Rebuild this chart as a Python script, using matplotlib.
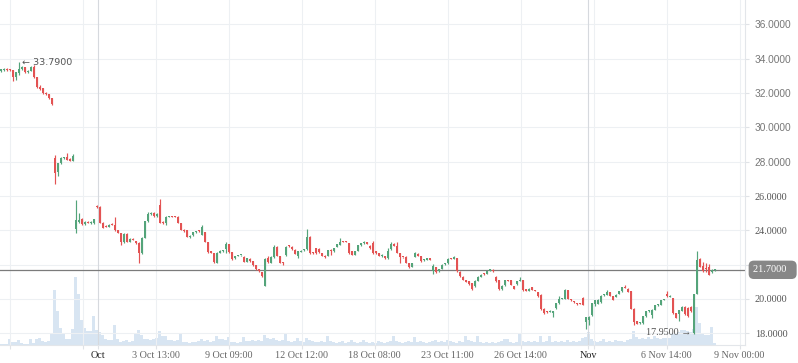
import numpy as np
import matplotlib
matplotlib.use("Agg")
import matplotlib.pyplot as plt

# candle data (one candle per bar, left to right)
opens = [
    33.30, 33.36, 33.40, 33.34, 33.32, 32.92, 33.15, 33.42, 33.50, 33.24,
    33.28, 33.52, 32.92, 32.36, 32.28, 32.00, 31.92, 31.70, 28.22, 27.40,
    27.90, 28.20, 28.30, 28.18, 28.06, 24.05, 24.50, 24.65, 24.38, 24.50,
    24.45, 24.42, 25.38, 25.35, 24.45, 24.25, 24.22, 24.36, 24.30, 24.00,
    23.82, 23.32, 23.78, 23.34, 23.50, 23.38, 23.28, 22.66, 23.58, 24.52,
    24.96, 25.00, 24.82, 25.45, 24.45, 24.42, 24.80, 24.82, 24.80, 24.80,
    24.40, 24.00, 24.00, 23.62, 23.70, 23.90, 23.96, 23.72, 23.88, 23.32,
    22.80, 22.66, 22.12, 22.70, 22.80, 22.90, 23.18, 22.72, 22.38, 22.50,
    22.54, 22.46, 22.16, 22.34, 22.22, 21.96, 21.72, 21.58, 20.78, 22.36,
    22.12, 22.44, 23.05, 22.50, 22.14, 22.55, 23.12, 23.05, 22.88, 22.52,
    22.76, 22.84, 22.92, 23.64, 22.72, 22.96, 22.90, 22.66, 22.52, 22.50,
    22.80, 22.80, 23.05, 23.16, 23.35, 23.36, 23.25, 22.80, 22.58, 22.80,
    23.14, 23.24, 23.30, 23.10, 23.25, 22.80, 22.66, 22.50, 22.50, 22.36,
    22.90, 23.20, 23.10, 22.66, 22.44, 22.46, 22.10, 21.88, 22.45, 22.64,
    22.50, 22.28, 22.28, 22.32, 21.62, 21.86, 21.64, 21.76, 22.04, 22.10,
    22.36, 22.34, 22.36, 21.60, 21.30, 21.10, 21.02, 20.92, 20.75, 21.05,
    21.28, 21.48, 21.48, 21.64, 21.70, 21.30, 21.10, 20.58, 20.80, 21.10,
    21.08, 20.74, 20.86, 21.04, 21.10, 20.56, 20.48, 20.70, 20.52, 20.40,
    20.26, 19.44, 19.28, 19.26, 19.16, 19.45, 19.74, 20.00, 20.00, 20.50,
    20.00, 19.82, 19.74, 19.74, 20.05, 18.66, 18.80, 19.05, 19.72, 19.72,
    19.80, 20.22, 20.26, 20.38, 20.18, 20.12, 20.30, 20.45, 20.70, 20.60,
    20.44, 19.44, 18.70, 18.58, 18.60, 19.00, 19.28, 19.08, 19.38, 19.64,
    19.66, 19.94, 20.28, 20.12, 20.04, 19.16, 19.10, 19.32, 19.54, 19.50,
    19.54, 18.00, 20.30, 22.35, 21.90, 21.78, 21.86, 21.56, 21.70,
]
highs = [
    33.42, 33.45, 33.44, 33.40, 33.36, 33.25, 33.79, 33.58, 33.52, 33.32,
    33.56, 33.62, 32.95, 32.44, 32.32, 32.04, 31.96, 31.72, 28.40, 27.95,
    28.25, 28.30, 28.50, 28.22, 28.45, 25.75, 25.00, 24.70, 24.55, 24.55,
    24.55, 24.68, 25.45, 25.40, 24.50, 24.30, 24.36, 24.40, 24.75, 24.02,
    23.85, 23.82, 23.82, 23.55, 23.55, 23.40, 23.30, 23.62, 24.55, 25.05,
    25.05, 25.05, 25.02, 25.85, 24.55, 24.85, 24.86, 24.84, 24.82, 24.82,
    24.42, 24.05, 24.02, 23.72, 23.92, 23.98, 24.00, 24.30, 23.92, 23.35,
    22.82, 22.68, 22.75, 22.85, 22.84, 23.30, 23.22, 22.74, 22.52, 22.56,
    22.58, 22.50, 22.40, 22.36, 22.24, 21.98, 21.74, 21.60, 22.38, 22.50,
    22.48, 23.17, 23.08, 22.52, 22.16, 23.08, 23.16, 23.06, 22.90, 22.82,
    22.84, 22.92, 24.10, 23.66, 22.74, 23.00, 22.96, 22.68, 22.54, 22.88,
    22.90, 22.98, 23.22, 23.55, 23.38, 23.38, 23.28, 22.82, 22.82, 23.16,
    23.28, 23.36, 23.32, 23.12, 23.40, 22.82, 22.68, 22.60, 22.52, 22.95,
    23.32, 23.24, 23.32, 22.68, 22.46, 22.48, 22.12, 22.12, 22.72, 22.66,
    22.52, 22.32, 22.40, 22.34, 22.05, 21.88, 21.76, 22.02, 22.12, 22.36,
    22.38, 22.50, 22.38, 21.62, 21.32, 21.12, 21.04, 20.94, 21.10, 21.32,
    21.44, 21.52, 21.66, 21.76, 21.72, 21.32, 21.12, 20.82, 21.12, 21.12,
    21.10, 20.76, 21.06, 21.30, 21.12, 20.58, 20.62, 20.72, 20.54, 20.42,
    20.28, 19.46, 19.30, 19.36, 19.32, 19.76, 20.18, 20.08, 20.60, 20.52,
    20.02, 19.86, 19.76, 19.78, 20.10, 18.98, 19.00, 19.78, 19.96, 19.98,
    20.22, 20.32, 20.50, 20.40, 20.20, 20.30, 20.46, 20.70, 20.80, 20.62,
    20.46, 19.46, 18.72, 18.66, 19.02, 19.32, 19.38, 19.42, 19.66, 19.72,
    19.96, 20.02, 20.44, 20.22, 20.06, 19.18, 19.38, 19.58, 19.58, 19.52,
    19.58, 20.32, 22.80, 22.40, 22.14, 22.08, 22.06, 21.74, 21.74,
]
lows = [
    33.22, 33.28, 33.30, 33.28, 32.72, 32.75, 33.05, 33.36, 33.18, 33.16,
    33.26, 32.86, 32.30, 32.16, 31.95, 31.86, 31.68, 31.30, 26.70, 27.18,
    27.85, 28.15, 28.08, 28.02, 28.02, 23.85, 24.45, 24.30, 24.32, 24.40,
    24.38, 24.38, 25.30, 24.42, 24.12, 24.18, 24.20, 24.30, 23.98, 23.82,
    23.12, 23.28, 23.30, 23.30, 23.42, 23.20, 22.10, 22.62, 23.55, 24.50,
    24.92, 24.78, 24.78, 24.40, 24.38, 24.30, 24.76, 24.76, 24.75, 24.40,
    24.00, 23.90, 23.60, 23.58, 23.65, 23.86, 23.92, 23.70, 23.30, 22.70,
    22.66, 22.10, 22.08, 22.66, 22.76, 22.70, 22.70, 22.30, 22.34, 22.48,
    22.50, 22.14, 22.14, 22.18, 21.94, 21.68, 21.58, 21.28, 20.74, 22.10,
    22.08, 22.40, 22.48, 22.10, 21.96, 22.50, 23.02, 22.86, 22.60, 22.40,
    22.72, 22.82, 22.88, 22.64, 22.62, 22.64, 22.70, 22.50, 22.40, 22.48,
    22.56, 22.76, 23.02, 23.12, 23.30, 23.30, 22.64, 22.54, 22.54, 22.78,
    23.10, 23.20, 23.20, 22.94, 22.64, 22.64, 22.48, 22.46, 22.34, 22.32,
    22.86, 23.06, 22.68, 22.10, 22.38, 22.08, 21.82, 21.84, 22.42, 22.50,
    22.18, 22.24, 22.26, 22.28, 21.48, 21.52, 21.60, 21.72, 22.00, 22.06,
    22.32, 22.32, 21.58, 21.28, 21.08, 20.98, 20.82, 20.50, 20.70, 21.02,
    21.26, 21.42, 21.46, 21.62, 21.58, 21.00, 20.55, 20.54, 20.78, 21.02,
    20.80, 20.56, 20.84, 21.02, 20.48, 20.44, 20.46, 20.50, 20.44, 20.14,
    19.38, 19.14, 19.20, 19.24, 18.98, 19.42, 19.72, 19.98, 19.98, 19.98,
    19.90, 19.76, 19.66, 19.68, 19.64, 18.25, 18.50, 19.02, 19.60, 19.70,
    19.76, 20.20, 20.24, 20.16, 19.94, 20.10, 20.28, 20.42, 20.62, 20.40,
    19.40, 18.48, 18.52, 18.54, 18.56, 18.98, 19.26, 18.92, 19.36, 19.62,
    19.64, 19.92, 20.12, 20.10, 19.12, 18.90, 18.72, 19.30, 19.08, 18.98,
    19.26, 17.95, 20.28, 21.84, 21.58, 21.60, 21.38, 21.52, 21.66,
]
closes = [
    33.38, 33.40, 33.34, 33.32, 32.92, 33.20, 33.42, 33.50, 33.22, 33.28,
    33.52, 32.92, 32.36, 32.24, 32.00, 31.92, 31.72, 31.36, 27.36, 27.90,
    28.20, 28.26, 28.12, 28.06, 28.36, 24.60, 24.62, 24.35, 24.50, 24.45,
    24.50, 24.65, 25.36, 24.45, 24.15, 24.22, 24.34, 24.32, 24.02, 23.86,
    23.32, 23.78, 23.34, 23.50, 23.46, 23.24, 22.66, 23.58, 24.52, 24.98,
    25.00, 24.82, 24.98, 24.45, 24.42, 24.80, 24.82, 24.78, 24.78, 24.42,
    24.02, 23.94, 23.62, 23.68, 23.88, 23.94, 23.94, 24.20, 23.32, 22.74,
    22.70, 22.14, 22.70, 22.80, 22.82, 23.18, 22.72, 22.34, 22.48, 22.54,
    22.56, 22.16, 22.36, 22.20, 21.98, 21.72, 21.62, 21.32, 22.32, 22.14,
    22.44, 23.05, 22.52, 22.12, 22.08, 23.05, 23.06, 22.90, 22.64, 22.78,
    22.82, 22.90, 23.64, 22.66, 22.66, 22.68, 22.74, 22.52, 22.42, 22.85,
    22.78, 22.95, 23.20, 23.35, 23.34, 23.33, 22.66, 22.56, 22.78, 23.14,
    23.26, 23.30, 23.22, 22.96, 22.66, 22.66, 22.50, 22.58, 22.36, 22.80,
    23.20, 23.08, 22.70, 22.46, 22.42, 22.10, 21.86, 22.10, 22.66, 22.52,
    22.22, 22.30, 22.38, 22.30, 21.92, 21.56, 21.74, 21.98, 22.10, 22.34,
    22.34, 22.46, 21.62, 21.32, 21.12, 21.00, 20.86, 20.56, 21.05, 21.28,
    21.42, 21.45, 21.64, 21.72, 21.62, 21.02, 20.58, 20.78, 21.08, 21.04,
    20.82, 20.58, 21.04, 21.10, 20.52, 20.46, 20.60, 20.52, 20.48, 20.16,
    19.42, 19.18, 19.22, 19.32, 19.28, 19.74, 20.00, 20.06, 20.50, 20.02,
    19.94, 19.80, 19.68, 19.72, 19.66, 18.94, 18.98, 19.75, 19.94, 19.96,
    20.20, 20.30, 20.42, 20.20, 19.96, 20.26, 20.44, 20.68, 20.64, 20.42,
    19.44, 18.66, 18.56, 18.64, 19.00, 19.28, 19.36, 19.38, 19.64, 19.70,
    19.94, 20.00, 20.16, 20.18, 19.16, 18.92, 19.34, 19.54, 19.10, 19.02,
    19.30, 20.30, 22.25, 21.86, 21.62, 21.72, 21.42, 21.70, 21.70,
]
volumes = [
    1, 1, 1, 6, 3, 3, 5, 2, 1, 1,
    6, 2, 6, 7, 4, 3, 4, 12, 55, 34,
    17, 12, 6, 6, 16, 68, 51, 25, 17, 14,
    14, 29, 15, 13, 10, 6, 5, 5, 20, 6,
    3, 4, 5, 3, 4, 12, 15, 10, 6, 6,
    5, 6, 7, 14, 9, 9, 5, 5, 4, 5,
    12, 3, 3, 2, 3, 3, 4, 6, 4, 5,
    3, 4, 9, 6, 6, 5, 8, 3, 3, 2,
    3, 8, 4, 4, 5, 4, 5, 4, 10, 7,
    6, 7, 5, 4, 5, 12, 4, 3, 4, 7,
    4, 3, 7, 5, 4, 3, 3, 4, 3, 9,
    4, 3, 2, 3, 4, 2, 3, 5, 3, 2,
    3, 5, 3, 2, 3, 2, 4, 3, 2, 3,
    4, 9, 4, 3, 2, 3, 4, 3, 8, 3,
    4, 3, 2, 3, 4, 5, 3, 4, 3, 5,
    4, 3, 2, 4, 3, 9, 5, 4, 3, 9,
    3, 2, 3, 2, 3, 2, 3, 4, 6, 6,
    3, 2, 3, 12, 4, 3, 4, 3, 4, 3,
    9, 3, 4, 9, 3, 4, 3, 4, 3, 5,
    3, 4, 3, 4, 7, 8, 13, 6, 4, 3,
    4, 6, 3, 4, 3, 5, 4, 4, 3, 5,
    6, 14, 8, 6, 7, 6, 8, 6, 9, 7,
    6, 7, 7, 7, 12, 12, 13, 15, 15, 14,
    13, 16, 38, 22, 12, 10, 10, 18, 2,
]

# time axis ticks (bar index positions)
tick_pos = [2.9, 27.2, 32.2, 51.6, 75.9, 100.2, 124.6, 148.9, 173.2, 195.7, 197.6, 221.9, 246.2]
tick_labels = ["", "", "Oct", "3 Oct 13:00", "9 Oct 09:00", "12 Oct 12:00", "18 Oct 08:00",
               "23 Oct 11:00", "26 Oct 14:00", "Nov", "", "6 Nov 14:00", "9 Nov 00:00"]
month_labels = ["Oct", "Nov"]
price_ticks = [18, 20, 22, 24, 26, 28, 30, 32, 34, 36]
last_price = 21.70

up_col = "#54a47a"
down_col = "#e35353"
grid_col = "#edf0f3"
serif = ["Liberation Serif", "DejaVu Serif"]

o = np.array(opens); h = np.array(highs); l = np.array(lows); c = np.array(closes)
x = np.arange(len(o))

fig = plt.figure(figsize=(7.98, 3.63), dpi=100)
pos = [0, 18 / 363, 745 / 798, 345 / 363]

# volume underneath
ax_v = fig.add_axes(pos)
ax_v.bar(x, volumes, width=1.0, color="#d8e5f2", linewidth=0)
ax_v.set_ylim(0, 345)
ax_v.axis("off")

ax = fig.add_axes(pos, sharex=ax_v)
ax.patch.set_alpha(0)
ax.set_xlim(-1 / 3, 248)
ax.set_ylim(17.32, 37.42)

for v in price_ticks:
    ax.axhline(v, color=grid_col, lw=0.8, zorder=0.5)
for p, lab in zip(tick_pos, tick_labels):
    ax.axvline(p, color="#d6d9de" if lab in month_labels else grid_col, lw=0.8, zorder=0.5)

ax.axhline(last_price, color="#7b7b7b", lw=0.9, zorder=1.5)

cols = np.where(c >= o, up_col, down_col)
ax.vlines(x, l, h, colors=cols, lw=0.85, zorder=2)
ax.bar(x, np.maximum(np.abs(c - o), 0.06), bottom=np.minimum(o, c), width=0.8,
       color=cols, linewidth=0, zorder=3)

# price axis on the right; the label under the last-price tag is hidden
ax.yaxis.tick_right()
ax.set_yticks(price_ticks)
ax.set_yticklabels(["" if abs(v - last_price) < 0.8 else f"{v:.4f}" for v in price_ticks])
ax.tick_params(axis="y", length=3, color="#e0e3e7", pad=4, labelsize=7.3, labelcolor="#555555")
for t, v in zip(ax.get_yticklabels(), price_ticks):
    if v >= 28:
        t.set_family("Liberation Sans")
        t.set_color("#777777")
    else:
        t.set_family(serif)

ax.set_xticks(tick_pos)
ax.set_xticklabels(tick_labels)
ax.tick_params(axis="x", length=3, color="#e0e3e7", pad=1.5, labelsize=7.3, labelcolor="#666666")
for t in ax.get_xticklabels():
    t.set_family(serif)
    if t.get_text() in month_labels:
        t.set_color("#222222")

for s in ["top", "left"]:
    ax.spines[s].set_visible(False)
for s in ["right", "bottom"]:
    ax.spines[s].set_color("#e3e6ea")
    ax.spines[s].set_linewidth(0.8)

# last price tag, running to the right edge
ax.annotate(f"{last_price:.4f}  ", xy=(1, last_price), xycoords=("axes fraction", "data"),
            xytext=(6, 0), textcoords="offset points", ha="left", va="center",
            fontsize=7.5, color="white", family=serif, annotation_clip=False,
            bbox=dict(boxstyle="round,pad=0.45,rounding_size=0.5", fc="#878787", ec="none"))

# high / low markers
hi = int(np.argmax(h)); lo = int(np.argmin(l))
ax.annotate(f"\u2190 {h[hi]:.4f}", xy=(hi, h[hi]), xytext=(2, 0), textcoords="offset points",
            ha="left", va="center", fontsize=6.8, color="#555555", family="DejaVu Sans")
ax.annotate(f"{l[lo]:.4f} \u2192", xy=(lo, l[lo]), xytext=(-2, 1), textcoords="offset points",
            ha="right", va="center", fontsize=7.3, color="#555555",
            family=["Liberation Serif", "DejaVu Sans"])

fig.savefig("out.png", dpi=100, facecolor="white")
